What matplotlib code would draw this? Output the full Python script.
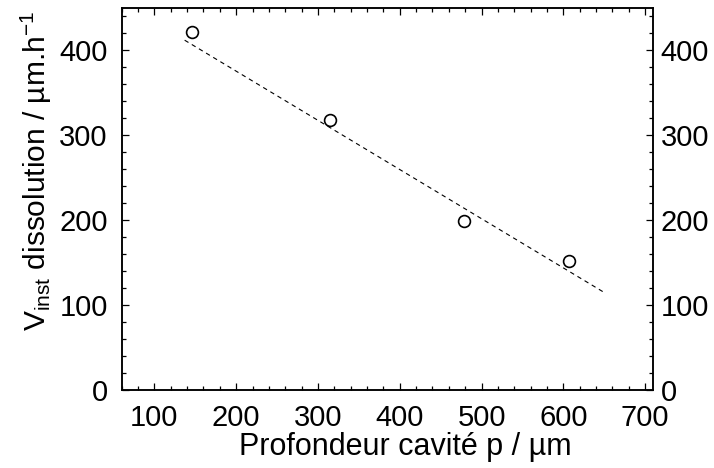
import matplotlib
matplotlib.use('Agg')
import matplotlib.pyplot as plt
from matplotlib.ticker import MultipleLocator

plt.rcParams['font.family'] = ['Liberation Sans', 'DejaVu Sans']
plt.rcParams['mathtext.fontset'] = 'custom'
plt.rcParams['mathtext.rm'] = 'Liberation Sans'
plt.rcParams['mathtext.it'] = 'Liberation Sans'

# Measured points
depth = [146, 315, 478, 607]
v_inst = [422, 318, 199, 152]

# Linear fit line
fit_x = [137, 651]
fit_y = [412, 114]

fig = plt.figure(figsize=(7.14, 4.68), dpi=100)
ax = fig.add_axes([0.1704, 0.1673, 0.7435, 0.8157])

ax.plot(fit_x, fit_y, color='black', lw=0.8, dashes=(4, 3.5))
ax.plot(depth, v_inst, 'o', mfc='none', mec='black', ms=8.5, mew=1.2)

ax.set_xlim(60, 709)
ax.set_ylim(0, 450)
ax.xaxis.set_major_locator(MultipleLocator(100))
ax.xaxis.set_minor_locator(MultipleLocator(20))
ax.yaxis.set_major_locator(MultipleLocator(100))
ax.yaxis.set_minor_locator(MultipleLocator(20))

ax.tick_params(which='both', direction='in', top=True, right=False,
               width=0.9, labelsize=21)
ax.tick_params(which='major', length=5)
ax.tick_params(which='minor', length=3)
ax.tick_params(axis='x', which='major', pad=10.5)
ax.tick_params(axis='y', which='major', pad=10)

# right axis: same scale, labels a bit closer to the spine
ax2 = ax.twinx()
ax2.set_ylim(ax.get_ylim())
ax2.yaxis.set_major_locator(MultipleLocator(100))
ax2.yaxis.set_minor_locator(MultipleLocator(20))
ax2.tick_params(which='both', direction='in', width=0.9, labelsize=21)
ax2.tick_params(which='major', length=5, pad=6)
ax2.tick_params(which='minor', length=3)

for a in (ax, ax2):
    for s in a.spines.values():
        s.set_linewidth(1.1)

ax.set_xlabel('Profondeur cavité p / µm', fontsize=22)
ax.xaxis.set_label_coords(0.534, -0.112)
ax.set_ylabel(r'V$_{\mathrm{inst}}$ dissolution / µm.h$^{\mathrm{-1}}$', fontsize=21.5)
ax.yaxis.set_label_coords(-0.128, 0.573)

fig.savefig('out.png', dpi=100)
